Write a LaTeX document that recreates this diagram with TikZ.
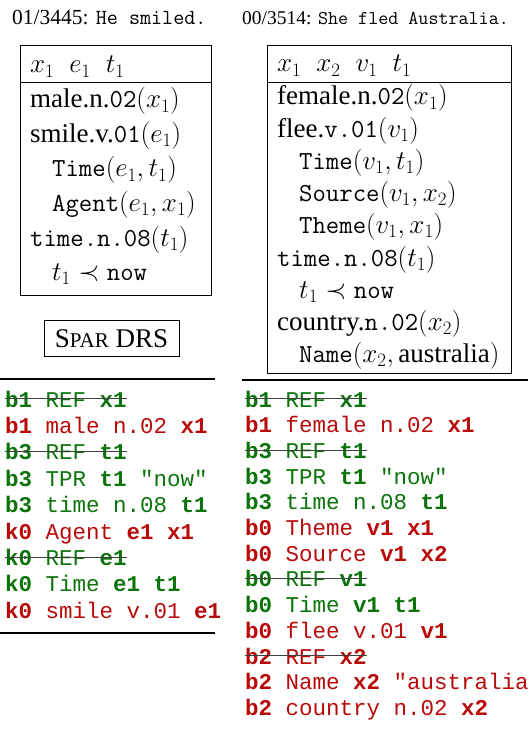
\RequirePackage{fix-cm}
\documentclass[tikz,border=0pt]{standalone}
\usepackage[no-math]{fontspec}
\setmainfont{Liberation Serif}
\newfontfamily\clausefont{Liberation Mono}
\usetikzlibrary{positioning}

\definecolor{sparGreen}{RGB}{10,115,10}
\definecolor{sparRed}{RGB}{185,10,10}

\newcommand{\drsfont}{\fontsize{27}{32}\selectfont}
\newcommand{\dtt}[1]{{\fontsize{26}{30}\selectfont\ttfamily #1}}
\newcommand{\clfont}{\clausefont\fontsize{22.5}{26}\selectfont}

\begin{document}
\begin{tikzpicture}[x=1pt, y=-1pt,
  title/.style={anchor=base west, inner sep=0pt},
  drsline/.style={anchor=base west, inner sep=0pt, font=\drsfont},
  clgreen/.style={anchor=base west, inner sep=0pt, font=\clfont, text=sparGreen},
  clred/.style={anchor=base west, inner sep=0pt, font=\clfont, text=sparRed},
  drsbox/.style={line width=0.8pt},
  strike/.style={draw=black!75, line width=1pt},
  rule/.style={line width=1.6pt}]
\useasboundingbox (0,0) rectangle (528,735);

\node[title, font=\fontsize{21.5}{24}\selectfont] (smiledTitle) at (12,25) {01/3445: \texttt{He smiled.}};
\node[title, font=\fontsize{19.5}{22}\selectfont] (fledTitle) at (242,25) {00/3514: \texttt{She fled Australia.}};

% DRS for "He smiled."
\draw[drsbox] (20,45) rectangle (211,295);
\draw[drsbox] (20,82) -- (211,82);
\node[drsline] (smiledRefs) at (30,73) {$x_1\;\; e_1\;\; t_1$};
\node[drsline] (smiledMale) at (30,108) {male.n.\dtt{02}$(x_1)$};
\node[drsline] (smiledSmile) at (30,142.5) {smile.v.\dtt{01}$(e_1)$};
\node[drsline] (smiledTime) at (52,177) {\dtt{Time}$(e_1,t_1)$};
\node[drsline] (smiledAgent) at (52,211.5) {\dtt{Agent}$(e_1,x_1)$};
\node[drsline] (smiledTimeN) at (30,246) {\dtt{time.n.08}$(t_1)$};
\node[drsline] (smiledNow) at (52,280.5) {$t_1\prec{}$\dtt{now}};

\draw[drsbox] (44,320) rectangle (179,356);
\node[font=\drsfont] (sparLabel) at (111.5,338.5) {S{\fontsize{21}{21}\selectfont PAR} DRS};

% DRS for "She fled Australia."
\draw[drsbox] (267,45) rectangle (511,373);
\draw[drsbox] (267,82) -- (511,82);
\node[drsline] (fledRefs) at (277,72) {$x_1\;\; x_2\;\; v_1\;\; t_1$};
\node[drsline] (fledFemale) at (277,105) {female.n.\dtt{02}$(x_1)$};
\node[drsline] (fledFlee) at (277,137.2) {flee.\dtt{v.01}$(v_1)$};
\node[drsline] (fledTime) at (299,169.4) {\dtt{Time}$(v_1,t_1)$};
\node[drsline] (fledSource) at (299,201.6) {\dtt{Source}$(v_1,x_2)$};
\node[drsline] (fledTheme) at (299,233.8) {\dtt{Theme}$(v_1,x_1)$};
\node[drsline] (fledTimeN) at (277,266) {\dtt{time.n.08}$(t_1)$};
\node[drsline] (fledNow) at (299,298.2) {$t_1\prec{}$\dtt{now}};
\node[drsline] (fledCountry) at (277,330.4) {country.\dtt{n.02}$(x_2)$};
\node[drsline] (fledName) at (299,362.6) {\dtt{Name}$(x_2,$\,australia$)$};

% clauses, left
\draw[rule] (0,379) -- (215,379);
\node[clgreen] (smiledCl1) at (5,407) {\textbf{b1} REF \textbf{x1}};
\node[clred] (smiledCl2) at (5,433.4) {\textbf{b1} male n.02 \textbf{x1}};
\node[clgreen] (smiledCl3) at (5,459.8) {\textbf{b3} REF \textbf{t1}};
\node[clgreen] (smiledCl4) at (5,486.2) {\textbf{b3} TPR \textbf{t1} "now"};
\node[clgreen] (smiledCl5) at (5,512.6) {\textbf{b3} time n.08 \textbf{t1}};
\node[clred] (smiledCl6) at (5,539) {\textbf{k0} Agent \textbf{e1} \textbf{x1}};
\node[clgreen] (smiledCl7) at (5,565.4) {\textbf{k0} REF \textbf{e1}};
\node[clgreen] (smiledCl8) at (5,591.8) {\textbf{k0} Time \textbf{e1} \textbf{t1}};
\node[clred] (smiledCl9) at (5,618.2) {\textbf{k0} smile v.01 \textbf{e1}};
\draw[rule] (0,633) -- (215,633);
\draw[strike] (smiledCl1.west) -- (smiledCl1.east);
\draw[strike] (smiledCl3.west) -- (smiledCl3.east);
\draw[strike] (smiledCl7.west) -- (smiledCl7.east);

% clauses, right
\draw[rule] (242,380) -- (528,380);
\node[clgreen] (fledCl1) at (245,407) {\textbf{b1} REF \textbf{x1}};
\node[clred] (fledCl2) at (245,432.7) {\textbf{b1} female n.02 \textbf{x1}};
\node[clgreen] (fledCl3) at (245,458.4) {\textbf{b3} REF \textbf{t1}};
\node[clgreen] (fledCl4) at (245,484.1) {\textbf{b3} TPR \textbf{t1} "now"};
\node[clgreen] (fledCl5) at (245,509.8) {\textbf{b3} time n.08 \textbf{t1}};
\node[clred] (fledCl6) at (245,535.5) {\textbf{b0} Theme \textbf{v1} \textbf{x1}};
\node[clred] (fledCl7) at (245,561.2) {\textbf{b0} Source \textbf{v1} \textbf{x2}};
\node[clgreen] (fledCl8) at (245,586.9) {\textbf{b0} REF \textbf{v1}};
\node[clgreen] (fledCl9) at (245,612.6) {\textbf{b0} Time \textbf{v1} \textbf{t1}};
\node[clred] (fledCl10) at (245,638.3) {\textbf{b0} flee v.01 \textbf{v1}};
\node[clred] (fledCl11) at (245,664) {\textbf{b2} REF \textbf{x2}};
\node[clred] (fledCl12) at (245,689.7) {\textbf{b2} Name \textbf{x2} "australia};
\node[clred] (fledCl13) at (245,715.4) {\textbf{b2} country n.02 \textbf{x2}};
\draw[strike] (fledCl1.west) -- (fledCl1.east);
\draw[strike] (fledCl3.west) -- (fledCl3.east);
\draw[strike] (fledCl8.west) -- (fledCl8.east);
\draw[strike] (fledCl11.west) -- (fledCl11.east);
\end{tikzpicture}
\end{document}
